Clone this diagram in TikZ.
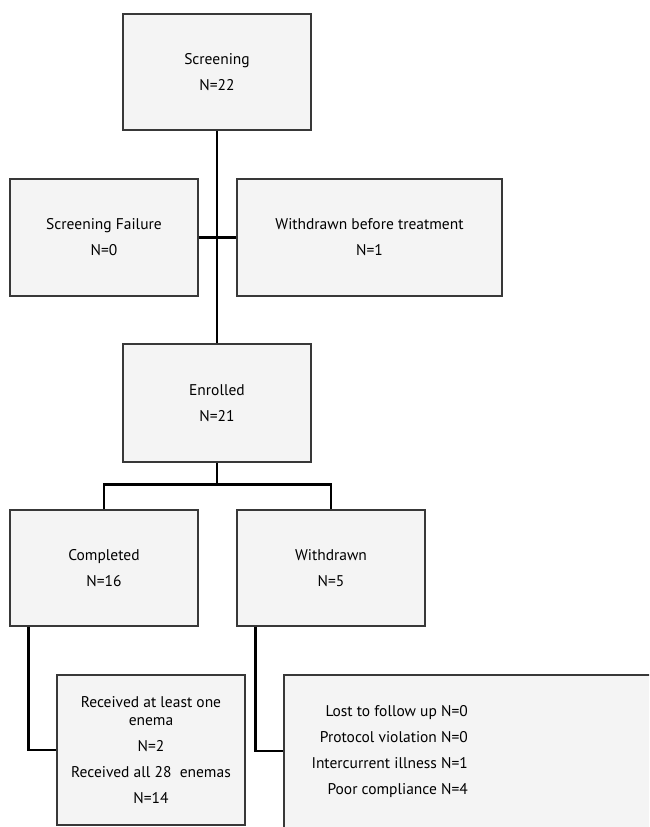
\documentclass[tikz,border=0pt]{standalone}
\usepackage{fontspec}
\setmainfont{PT Sans}
\usepackage{tikz}
\definecolor{boxfill}{HTML}{F4F4F4}
\definecolor{boxline}{HTML}{383838}
\tikzset{
    flowbox/.style={draw=boxline, fill=boxfill, line width=1.2pt, align=center, inner sep=0pt,
        minimum width=188, minimum height=116, font=\fontsize{15.5}{18}\selectfont},
    flowtext/.style={align=right, inner sep=0pt, font=\fontsize{15.5}{18}\selectfont},
    link/.style={draw=black, line width=2.4pt}
}
\begin{document}
\begin{tikzpicture}[x=1pt, y=-1pt]
    \useasboundingbox (0,0) rectangle (649,827);
    \clip (0,0) rectangle (649,827);
    \fill[white] (0,0) rectangle (649,827);

    \node[flowbox] (Screening) at (217,72) {Screening\\[8pt]N=22};
    \node[flowbox, minimum height=117] (ScreeningFailure) at (104,237.5) {Screening Failure\\[8pt]N=0};
    \node[flowbox, minimum width=265, minimum height=117] (WithdrawnBefore) at (369.5,237.5) {Withdrawn before treatment\\[8pt]N=1};
    \node[flowbox, minimum height=118] (Enrolled) at (217,403) {Enrolled\\[8pt]N=21};
    \node[flowbox] (Completed) at (104,568) {Completed\\[8pt]N=16};
    \node[flowbox] (Withdrawn) at (331,568) {Withdrawn\\[8pt]N=5};
    \node[flowbox, minimum height=150] (Received) at (151,750)
        {Received at least one\\enema\\[8pt]N=2\\[8pt]Received all 28~ enemas\\[8pt]N=14};
    \node[flowbox, minimum width=440, minimum height=170] (Reasons) at (504,760) {};
    \node[flowtext, anchor=east] (ReasonsText) at (468,752)
        {Lost to follow up N=0\\[8pt]Protocol violation N=0\\[8pt]Intercurrent illness N=1\\[8pt]Poor compliance N=4};

    \draw[link] (Screening.south) -- (Enrolled.north);
    \draw[link] (ScreeningFailure.east) -- (WithdrawnBefore.west);
    \draw[link] (Enrolled.south) -- ++(0,22) coordinate (Split);
    \draw[link] (Completed.north) |- (Split) -| (Withdrawn.north);
    \draw[link] ([xshift=19pt]Completed.south west) |- (Received.west);
    \draw[link] ([xshift=19pt]Withdrawn.south west) |- ([yshift=9pt]Reasons.west);
\end{tikzpicture}
\end{document}
